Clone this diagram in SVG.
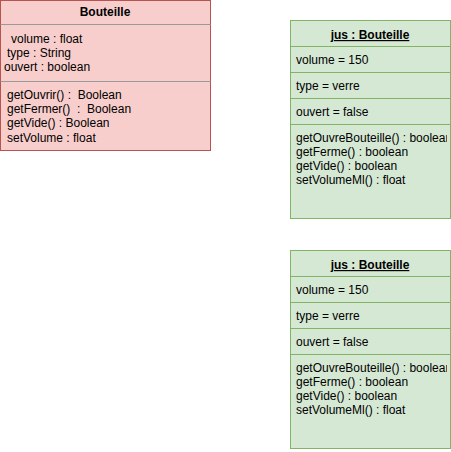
<svg xmlns="http://www.w3.org/2000/svg" width="451" height="452" viewBox="0 0 451 452">
<style>
text{font-family:"Liberation Sans",Arial,Helvetica,sans-serif;font-size:12px;fill:#000}
.t{font-weight:bold;text-anchor:middle}
.u{text-decoration:underline}
.red{fill:#f8cecc;stroke:#b85450;stroke-width:1}
.grn{fill:#d5e8d4;stroke:#82b366;stroke-width:1}
.sepr{stroke:#999999;stroke-width:1}
.sepg{stroke:#82b366;stroke-width:1}
</style>
<defs>
<clipPath id="c1"><rect x="290" y="20" width="157" height="198"/></clipPath>
<clipPath id="c2"><rect x="290" y="250" width="157" height="198"/></clipPath>
</defs>
<g id="class-bouteille">
<rect class="red" x="0.5" y="0.5" width="210" height="150"/>
<line class="sepr" x1="0.5" y1="24.5" x2="210.5" y2="24.5"/>
<line class="sepr" x1="0.5" y1="81.5" x2="210.5" y2="81.5"/>
<text class="t" x="105" y="16">Bouteille</text>
<text x="11" y="43">volume : float</text>
<text x="7" y="57">type : String</text>
<text x="4" y="71">ouvert : boolean</text>
<text x="7" y="99" xml:space="preserve">getOuvrir() :  Boolean</text>
<text x="7" y="113" xml:space="preserve">getFermer()  :  Boolean</text>
<text x="7" y="127">getVide() : Boolean</text>
<text x="7" y="142">setVolume : float</text>
</g>
<g id="object-jus-1">
<rect class="grn" x="290.5" y="20.5" width="160" height="198"/>
<line class="sepg" x1="290.5" y1="46.5" x2="450.5" y2="46.5"/>
<line class="sepg" x1="290.5" y1="72.5" x2="450.5" y2="72.5"/>
<line class="sepg" x1="290.5" y1="98.5" x2="450.5" y2="98.5"/>
<line class="sepg" x1="290.5" y1="124.5" x2="450.5" y2="124.5"/>
<text class="t u" x="370" y="39">jus : Bouteille</text>
<text x="296" y="64">volume = 150</text>
<text x="296" y="90">type = verre</text>
<text x="296" y="116">ouvert = false</text>
<g clip-path="url(#c1)">
<text x="296" y="142">getOuvreBouteille() : boolean</text>
<text x="296" y="156">getFerme() : boolean</text>
<text x="296" y="170">getVide() : boolean</text>
<text x="296" y="184">setVolumeMl() : float</text>
</g>
</g>
<g id="object-jus-2">
<rect class="grn" x="290.5" y="250.5" width="160" height="198"/>
<line class="sepg" x1="290.5" y1="276.5" x2="450.5" y2="276.5"/>
<line class="sepg" x1="290.5" y1="302.5" x2="450.5" y2="302.5"/>
<line class="sepg" x1="290.5" y1="328.5" x2="450.5" y2="328.5"/>
<line class="sepg" x1="290.5" y1="354.5" x2="450.5" y2="354.5"/>
<text class="t u" x="370" y="269">jus : Bouteille</text>
<text x="296" y="294">volume = 150</text>
<text x="296" y="320">type = verre</text>
<text x="296" y="346">ouvert = false</text>
<g clip-path="url(#c2)">
<text x="296" y="372">getOuvreBouteille() : boolean</text>
<text x="296" y="386">getFerme() : boolean</text>
<text x="296" y="400">getVide() : boolean</text>
<text x="296" y="414">setVolumeMl() : float</text>
</g>
</g>
<g id="connectors"/>
</svg>
